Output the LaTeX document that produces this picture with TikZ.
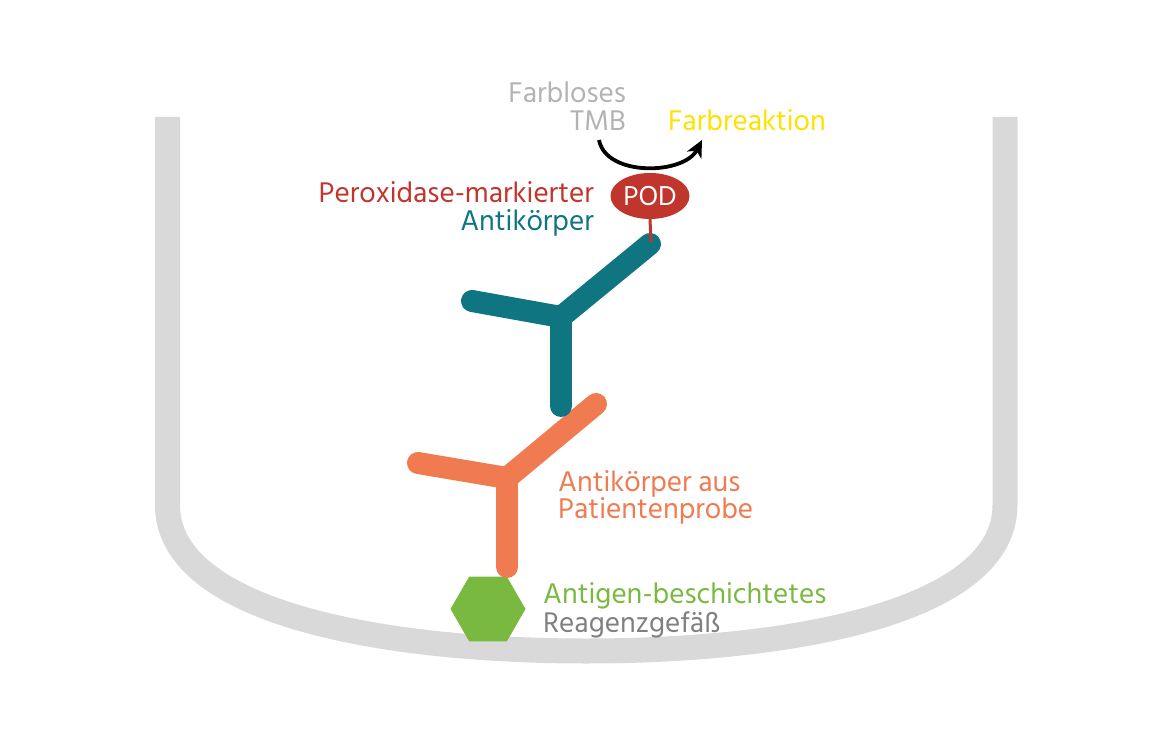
\documentclass[tikz,border=0pt]{standalone}
\usepackage{fontspec}
\setmainfont{Hind Siliguri}
\usetikzlibrary{arrows.meta,shapes.geometric}
\definecolor{vessel}{HTML}{D9D9D9}
\definecolor{podred}{HTML}{C0352C}
\definecolor{teal}{HTML}{0F7580}
\definecolor{orangeab}{HTML}{F07B51}
\definecolor{greenag}{HTML}{7AB940}
\definecolor{lightgray}{HTML}{B3B3B3}
\definecolor{midgray}{HTML}{808080}
\definecolor{yellowfr}{HTML}{FFE100}
\tikzset{
  lbl/.style={inner sep=0pt, font=\fontsize{29.2}{30}\selectfont},
  arm/.style={line width=22pt, line cap=round},
}
\begin{document}
\begin{tikzpicture}[x=1pt,y=-1pt]
\useasboundingbox (0,0) rectangle (1151,735);
% vessel
\draw[vessel, line width=25pt] (167.5,117) -- (167.5,505)
  .. controls (167.5,612) and (380,651) .. (586,651)
  .. controls (792,651) and (1005,612) .. (1005,505) -- (1005,117);
% hexagon antigen
\node[regular polygon, regular polygon sides=6, shape border rotate=0, minimum size=75pt, inner sep=0pt, fill=greenag] (ag) at (488,609) {};
% patient antibody
\coordinate (oj) at (507,478);
\coordinate (ol) at (418,463);
\coordinate (or) at (596,404);
\coordinate (ob) at (507,567);
\draw[arm, orangeab] (ol) -- (oj) -- (or);
\draw[arm, orangeab] (oj) -- (ob);
% teal antibody
\coordinate (tj) at (561,317);
\coordinate (tl) at (472,301);
\coordinate (tr) at (650,244);
\coordinate (tb) at (561,406);
\draw[arm, teal] (tl) -- (tj) -- (tr);
\draw[arm, teal] (tj) -- (tb);
% POD
\node[ellipse, fill=podred, minimum width=79pt, minimum height=46pt, inner sep=0pt, text=white, font=\fontsize{28}{28}\selectfont] (pod) at (650,196) {POD};
\coordinate (podstem) at (651,242);
\draw[podred, line width=3pt] (pod.south) -- (podstem);
% reaction arrow
\coordinate (a1) at (599,140);
\coordinate (a2) at (702,140);
\draw[line width=3.8pt, -{Stealth[length=17pt,width=16pt,inset=5pt]}] (a1) .. controls (606,177) and (684,175) .. (a2);
% labels
\node[lbl, anchor=base east, text=lightgray] (t1) at (626,103) {Farbloses};
\node[lbl, anchor=base east, text=lightgray] (t2) at (626,131) {TMB};
\node[lbl, anchor=base west, text=yellowfr] (t3) at (668,131) {Farbreaktion};
\node[lbl, anchor=base east, text=podred] (t4) at (594,203) {Peroxidase-markierter};
\node[lbl, anchor=base east, text=teal] (t5) at (594,231) {Antikörper};
\node[lbl, anchor=base west, text=orangeab] (t6) at (558,491) {Antikörper aus};
\node[lbl, anchor=base west, text=orangeab] (t7) at (558,518) {Patientenprobe};
\node[lbl, anchor=base west, text=greenag] (t8) at (543,603) {Antigen-beschichtetes};
\node[lbl, anchor=base west, text=midgray] (t9) at (543,632) {Reagenzgefäß};
\end{tikzpicture}
\end{document}
